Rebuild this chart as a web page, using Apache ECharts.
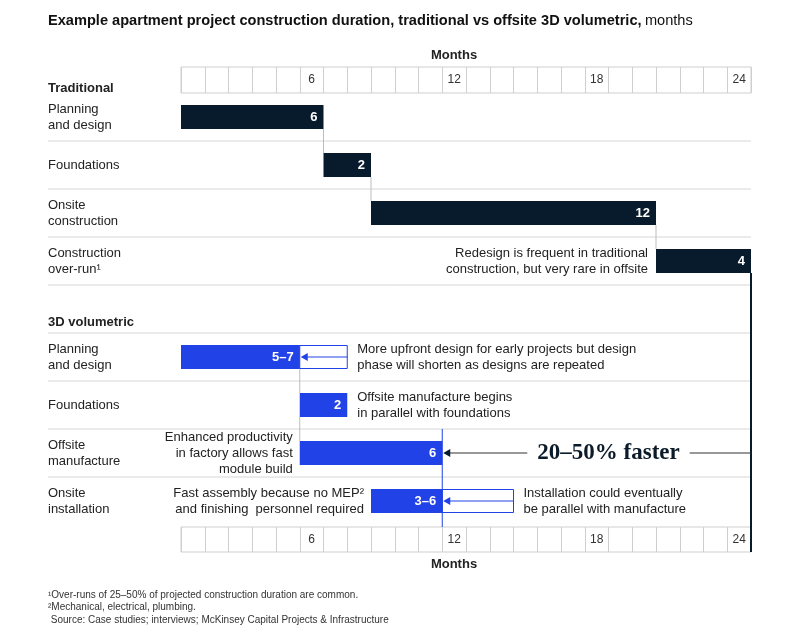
<!DOCTYPE html>
<html>
<head>
<meta charset="utf-8">
<title>Construction duration</title>
<script src="https://cdn.jsdelivr.net/npm/echarts@6/dist/echarts.min.js"></script>
<style>
  html, body { margin: 0; padding: 0; background: #fff; }
  #main { width: 800px; height: 634px; }
</style>
</head>
<body>
<div id="main"></div>
<script>
// ---- data ----
var tradPhases = ['Planning\nand design', 'Foundations', 'Onsite\nconstruction', 'Construction\nover-run\u00b9'];
var tradStart = [0, 6, 8, 20];
var tradMonths = [6, 2, 12, 4];
var tradNotes = ['', '', '', 'Redesign is frequent in traditional\nconstruction, but very rare in offsite'];

var volPhases = ['Planning\nand design', 'Foundations', 'Offsite\nmanufacture', 'Onsite\ninstallation'];
var volStart = [0, 5, 5, 8];
var volMin = [5, 2, 6, 3];
var volMax = [7, 2, 6, 6];
var volLabels = ['5\u20137', '2', '6', '3\u20136'];
var volNotesLeft = ['', '', 'Enhanced productivity\nin factory allows fast\nmodule build', 'Fast assembly because no MEP\u00b2\nand finishing  personnel required'];
var volNotesRight = ['More upfront design for early projects but design\nphase will shorten as designs are repeated', 'Offsite manufacture begins\nin parallel with foundations', '', 'Installation could eventually\nbe parallel with manufacture'];
var volCallout = ['', '', '20\u201350% faster', ''];

var monthTicks = [6, 12, 18, 24];
var monthCells = Array.from({ length: 24 }, function (_, i) { return String(i + 1); });

var footnotes = [
  '\u00b9Over-runs of 25\u201350% of projected construction duration are common.',
  '\u00b2Mechanical, electrical, plumbing.',
  ' Source: Case studies; interviews; McKinsey Capital Projects & Infrastructure'
];

// ---- style ----
var FONT = '"Liberation Sans", Arial, sans-serif';
var NAVY = '#071b2c';
var BLUE = '#2142e6';
var SEP = '#d6d6d6';
var CONN = '#bdbdbd';
var TXT = '#222';
var labelLeft = 48;
var barH = 24;
var axisGap = 2, axisBoxH = 25;
var calloutMonth = 18;

var rows = tradPhases.concat([''], volPhases);

function txt(text, x, y, align, extra) {
  var s = { text: text, x: x, y: y, align: align, verticalAlign: 'middle',
    fill: TXT, fontSize: 13, lineHeight: 16, fontFamily: FONT };
  for (var k in extra) s[k] = extra[k];
  return { type: 'text', z2: 20, style: s };
}
function vline(x, y1, y2, color, w, z2) {
  return { type: 'line', z2: z2 || 5, shape: { x1: x, y1: y1, x2: x, y2: y2 }, style: { stroke: color, lineWidth: w || 1 } };
}
function arrowHead(x, y, color) {
  return { type: 'polygon', z2: 15, shape: { points: [[x, y], [x + 7, y - 4], [x + 7, y + 4]] }, style: { fill: color } };
}

function renderTrad(params, api) {
  var i = params.dataIndex;
  var row = api.value(2);
  var a = api.coord([api.value(0), row]);
  var b = api.coord([api.value(0) + api.value(1), row]);
  var band = api.size([0, 1])[1];
  var cs = params.coordSys;
  var right = cs.x + cs.width;
  var top = a[1] - barH / 2, bot = a[1] + barH / 2;
  var kids = [];
  var ys = a[1] + band / 2;
  kids.push({ type: 'line', z2: 1, shape: { x1: labelLeft, y1: ys, x2: right, y2: ys }, style: { stroke: SEP, lineWidth: 1 } });
  if (i > 0 && tradStart[i] === tradStart[i - 1] + tradMonths[i - 1]) {
    var prevBot = api.coord([0, row - 1])[1] + barH / 2;
    kids.push(vline(a[0], prevBot, top, CONN));
  }
  kids.push({ type: 'rect', z2: 10, shape: { x: a[0], y: top, width: b[0] - a[0], height: barH }, style: { fill: NAVY } });
  kids.push(txt(String(tradMonths[i]), b[0] - 6, a[1], 'right', { fill: '#fff', fontWeight: 'bold' }));
  if (tradNotes[i]) kids.push(txt(tradNotes[i], a[0] - 8, a[1], 'right'));
  if (i === tradStart.length - 1) {
    kids.push(vline(b[0], bot, cs.y + cs.height + axisGap + axisBoxH, NAVY, 2, 12));
  }
  return { type: 'group', children: kids };
}

function renderVol(params, api) {
  var i = params.dataIndex;
  var row = api.value(3);
  var s = api.value(0);
  var a = api.coord([s, row]);
  var b = api.coord([s + api.value(1), row]);
  var c = api.coord([s + api.value(2), row]);
  var band = api.size([0, 1])[1];
  var cs = params.coordSys;
  var right = cs.x + cs.width;
  var top = a[1] - barH / 2;
  var kids = [];
  var ys = a[1] - band / 2;
  kids.push({ type: 'line', z2: 1, shape: { x1: labelLeft, y1: ys, x2: right, y2: ys }, style: { stroke: SEP, lineWidth: 1 } });
  if (i > 0 && (volStart[i] === volStart[i - 1] + volMin[i - 1] || volStart[i] === volStart[i - 1])) {
    var prevBot = api.coord([0, row - 1])[1] + barH / 2;
    kids.push(vline(a[0], prevBot, top, CONN));
  }
  if (c[0] > b[0]) {
    kids.push({ type: 'rect', z2: 9, shape: { x: b[0], y: top + 0.5, width: c[0] - b[0], height: barH - 1 }, style: { fill: '#fff', stroke: BLUE, lineWidth: 1 } });
    kids.push({ type: 'line', z2: 14, shape: { x1: c[0], y1: a[1], x2: b[0] + 6, y2: a[1] }, style: { stroke: BLUE, lineWidth: 1 } });
    kids.push(arrowHead(b[0] + 1, a[1], BLUE));
  }
  kids.push({ type: 'rect', z2: 10, shape: { x: a[0], y: top, width: b[0] - a[0], height: barH }, style: { fill: BLUE } });
  kids.push(txt(volLabels[i], b[0] - 6, a[1], 'right', { fill: '#fff', fontWeight: 'bold' }));
  if (volNotesLeft[i]) kids.push(txt(volNotesLeft[i], a[0] - 7, a[1], 'right'));
  if (volNotesRight[i]) kids.push(txt(volNotesRight[i], Math.max(b[0], c[0]) + 10, a[1], 'left'));
  if (volCallout[i]) {
    kids.push(vline(b[0], ys, cs.y + cs.height + axisGap, BLUE, 1, 11));
    kids.push({ type: 'line', z2: 12, shape: { x1: b[0] + 6, y1: a[1], x2: right, y2: a[1] }, style: { stroke: '#333', lineWidth: 1 } });
    kids.push(arrowHead(b[0] + 1, a[1], NAVY));
    var m = api.coord([calloutMonth, row]);
    kids.push(txt(volCallout[i], m[0], a[1], 'center', {
      fontFamily: '"Liberation Serif", "DejaVu Serif", serif', fontWeight: 'bold', fontSize: 23,
      fill: '#0b1b2a', backgroundColor: '#fff', padding: [2, 10]
    }));
  }
  return { type: 'group', children: kids };
}

function monthAxis(gridIndex, margin) {
  return {
    type: 'category', gridIndex: gridIndex, data: monthCells, boundaryGap: true,
    axisLine: { show: false }, axisTick: { show: false },
    splitLine: { show: true, interval: 0, lineStyle: { color: '#cfcfcf' } },
    axisLabel: {
      inside: true, interval: 0, margin: margin, verticalAlign: 'middle',
      fontSize: 12, color: '#333', fontFamily: FONT,
      formatter: function (v) { return monthTicks.indexOf(+v) >= 0 ? v : ''; }
    }
  };
}

var chart = echarts.init(document.getElementById('main'), null, { renderer: 'canvas' });

var option = {
  animation: false,
  backgroundColor: '#fff',
  graphic: [
    { type: 'text', x: labelLeft, y: 21, style: {
      text: '{b|Example apartment project construction duration, traditional vs offsite 3D volumetric,} {n|months}',
      verticalAlign: 'middle',
      rich: {
        b: { fontFamily: FONT, fontWeight: 'bold', fontSize: 14.6, fill: '#111' },
        n: { fontFamily: FONT, fontSize: 14.6, fill: '#111' }
      } } },
    { type: 'text', x: labelLeft, y: 88, style: { text: 'Traditional', fontFamily: FONT, fontWeight: 'bold', fontSize: 13, fill: TXT, verticalAlign: 'middle' } },
    { type: 'text', x: labelLeft, y: 322, style: { text: '3D volumetric', fontFamily: FONT, fontWeight: 'bold', fontSize: 13, fill: TXT, verticalAlign: 'middle' } },
    { type: 'text', x: 454, y: 55, style: { text: 'Months', fontFamily: FONT, fontWeight: 'bold', fontSize: 13, fill: TXT, align: 'center', verticalAlign: 'middle' } },
    { type: 'text', x: 454, y: 564, style: { text: 'Months', fontFamily: FONT, fontWeight: 'bold', fontSize: 13, fill: TXT, align: 'center', verticalAlign: 'middle' } },
    { type: 'text', x: labelLeft, y: 595, style: { text: footnotes[0], fontFamily: FONT, fontSize: 10, fill: '#333', verticalAlign: 'middle' } },
    { type: 'text', x: labelLeft, y: 607.5, style: { text: footnotes[1], fontFamily: FONT, fontSize: 10, fill: '#333', verticalAlign: 'middle' } },
    { type: 'text', x: labelLeft, y: 620, style: { text: footnotes[2], fontFamily: FONT, fontSize: 10, fill: '#333', verticalAlign: 'middle' } }
  ],
  grid: [
    { left: 181, right: 49, top: 93, height: 432 },
    { left: 181, right: 49, top: 67, height: 26, show: true, borderColor: '#cfcfcf', borderWidth: 1 },
    { left: 181, right: 49, top: 527, height: 25, show: true, borderColor: '#cfcfcf', borderWidth: 1 }
  ],
  xAxis: [
    { type: 'value', gridIndex: 0, min: 0, max: 24, show: false },
    monthAxis(1, 13),
    monthAxis(2, 12.5)
  ],
  yAxis: [
    {
      type: 'category', gridIndex: 0, data: rows, inverse: true,
      axisLine: { show: false }, axisTick: { show: false }, splitLine: { show: false },
      axisLabel: { align: 'left', margin: 133, fontSize: 13, lineHeight: 16, color: TXT, fontFamily: FONT, interval: 0 }
    },
    { type: 'value', gridIndex: 1, show: false },
    { type: 'value', gridIndex: 2, show: false }
  ],
  series: [
    {
      type: 'custom', name: 'Traditional', xAxisIndex: 0, yAxisIndex: 0,
      renderItem: renderTrad, encode: { x: [0], y: 2 },
      data: tradStart.map(function (s, i) { return [s, tradMonths[i], i]; })
    },
    {
      type: 'custom', name: '3D volumetric', xAxisIndex: 0, yAxisIndex: 0,
      renderItem: renderVol, encode: { x: [0], y: 3 },
      data: volStart.map(function (s, i) { return [s, volMin[i], volMax[i], tradPhases.length + 1 + i]; })
    }
  ]
};
chart.setOption(option);
</script>
</body>
</html>
